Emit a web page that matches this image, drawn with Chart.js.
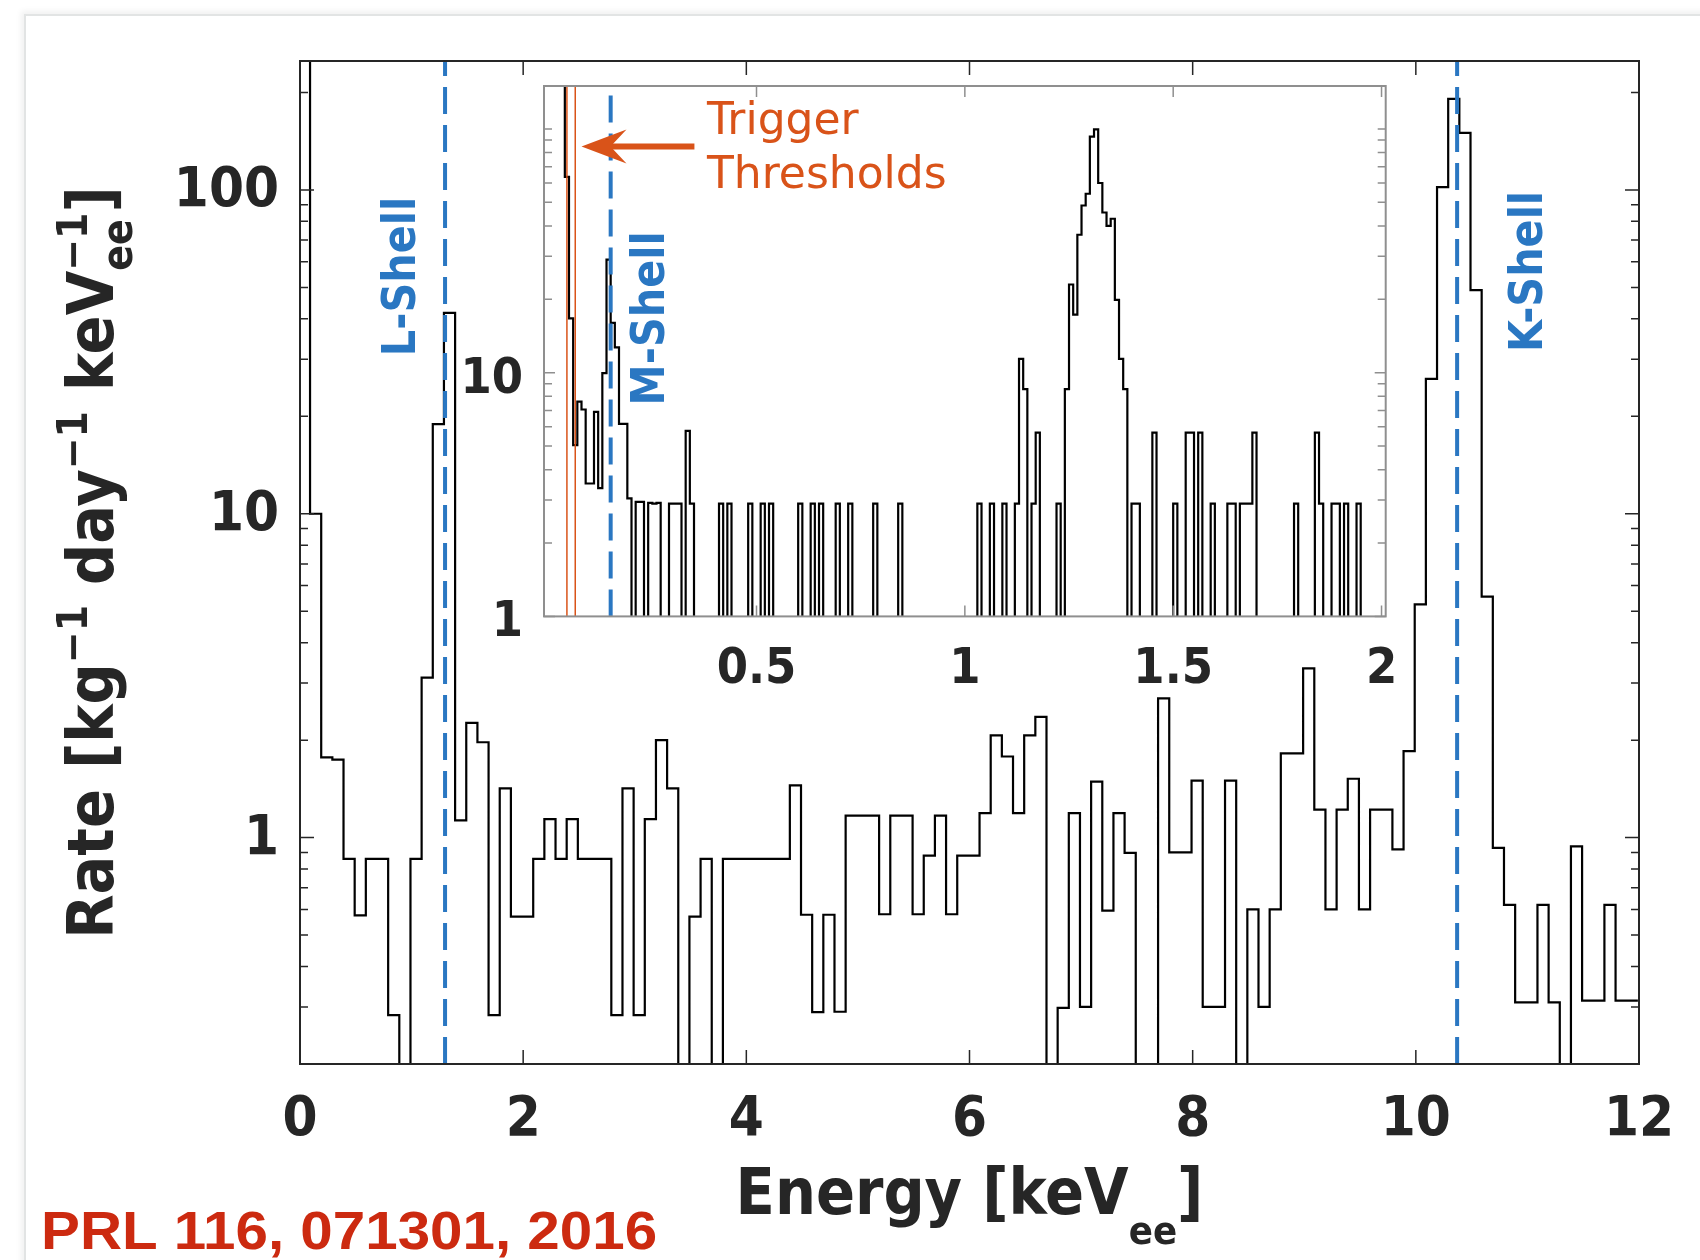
<!DOCTYPE html>
<html>
<head>
<meta charset="utf-8">
<title>CDMSlite energy spectrum</title>
<script src="https://cdn.jsdelivr.net/npm/chart.js@4/dist/chart.umd.min.js"></script>
<style>
  html, body { margin: 0; padding: 0; background: #fff; }
  #page { position: relative; width: 1700px; height: 1260px; overflow: hidden; background: #fff; }
  #frame { position: absolute; left: 24px; top: 14px; width: 1720px; height: 1290px; background: #fff;
           border-left: 2px solid #e2e4e4; border-top: 2px solid #e2e4e4;
           box-shadow: -3px -3px 6px rgba(0,0,0,0.06); }
  canvas { position: absolute; }
  #main { left: 0; top: 0; }
  #inset { left: 400px; top: 40px; }
</style>
</head>
<body>
<div id="page">
  <div id="frame"></div>
  <canvas id="main" width="1700" height="1260"></canvas>
  <canvas id="inset" width="1000" height="650"></canvas>
</div>
<script>
// ---- main spectrum: 0.1 keV bins, bin k runs from 0.1k-0.01 to 0.1k+0.09 keV ----
const mainBinWidth = 0.1;
const mainFirstEdge = -0.01;
const mainRate = [
  300, 10, 1.77, 1.74, 0.86, 0.575, 0.86, 0.86, 0.283, 0,          // 0 keV
  0.86, 3.12, 18.9, 41.7, 1.13, 2.26, 1.97, 0.283, 1.42, 0.57,     // 1 keV
  0.57, 0.86, 1.14, 0.86, 1.14, 0.86, 0.86, 0.86, 0.283, 1.42,     // 2 keV
  0.283, 1.14, 2.0, 1.42, 0, 0.57, 0.86, 0, 0.86, 0.86,            // 3 keV
  0.86, 0.86, 0.86, 0.86, 1.45, 0.578, 0.289, 0.578, 0.29, 1.17,   // 4 keV
  1.17, 1.17, 0.58, 1.17, 1.17, 0.58, 0.88, 1.17, 0.58, 0.88,      // 5 keV
  0.88, 1.19, 2.07, 1.78, 1.19, 2.07, 2.36, 0, 0.298, 1.19,        // 6 keV
  0.3, 1.49, 0.595, 1.19, 0.897, 0, 0, 2.69, 0.9, 0.9,             // 7 keV
  1.5, 0.3, 0.3, 1.5, 0, 0.6, 0.3, 0.6, 1.82, 1.82,                // 8 keV
  3.33, 1.22, 0.6, 1.22, 1.52, 0.6, 1.22, 1.22, 0.92, 1.85,        // 9 keV
  5.25, 26.1, 102, 191, 150, 49, 5.55, 0.93, 0.62, 0.31,           // 10 keV
  0.31, 0.62, 0.31, 0, 0.94, 0.314, 0.314, 0.62, 0.314, 0.314      // 11 keV
];
const mainXTicks = [0, 2, 4, 6, 8, 10, 12];
const mainYTicks = [0.2, 0.3, 0.4, 0.5, 0.6, 0.7, 0.8, 0.9, 1, 2, 3, 4, 5, 6, 7, 8, 9,
                    10, 20, 30, 40, 50, 60, 70, 80, 90, 100, 200];
const mainYLabels = [1, 10, 100];
const mainYMin = 0.2, mainYMax = 250;

const shellName = ['L-Shell', 'K-Shell'];
const shellEnergy = [1.3, 10.37];

// ---- inset: 0.01 keV bins, only the filled bins are listed (start of bin, rate) ----
const insetBinLow = [
  -0.01, 0.00, 0.01, 0.02, 0.03,
  0.04, 0.05, 0.06, 0.07, 0.08, 0.09, 0.10, 0.11,
  0.12, 0.13, 0.14, 0.15, 0.16, 0.17, 0.18, 0.19,
  0.21, 0.22, 0.24, 0.25, 0.26, 0.29, 0.30, 0.31, 0.33, 0.34,
  0.41, 0.43, 0.48, 0.51, 0.53, 0.60, 0.63, 0.65, 0.69, 0.72, 0.78, 0.84,
  1.03, 1.06, 1.09, 1.12, 1.13, 1.14, 1.16, 1.17, 1.22,
  1.24, 1.25, 1.26, 1.27, 1.28, 1.29, 1.30, 1.31,
  1.32, 1.33, 1.34, 1.35, 1.36, 1.37, 1.38,
  1.40, 1.41, 1.45, 1.50, 1.53, 1.54, 1.56, 1.59,
  1.63, 1.64, 1.66, 1.67, 1.68, 1.69, 1.79, 1.84, 1.85, 1.88, 1.89, 1.91, 1.94
];
const insetRate = [
  400, 400, 400, 400, 400,
  63.6, 16.7, 5.04, 7.6, 7.06, 3.51, 3.51, 6.9,
  3.36, 9.95, 29.1, 16.0, 12.7, 6.17, 6.17, 3.05,
  2.95, 2.95, 2.92, 2.9, 2.92, 2.9, 2.9, 2.9, 5.77, 2.9,
  2.9, 2.9, 2.9, 2.9, 2.9, 2.9, 2.9, 2.9, 2.9, 2.9, 2.9, 2.9,
  2.9, 2.9, 2.9, 2.9, 11.4, 8.56, 2.9, 5.67, 2.9,
  8.56, 23.0, 17.3, 36.8, 48.5, 54.2, 93.0, 99.5,
  60.0, 45.4, 40.0, 42.8, 19.9, 11.4, 8.56,
  2.9, 2.9, 5.67, 2.9, 5.67, 5.67, 5.67, 2.9,
  2.9, 2.9, 2.9, 2.9, 2.9, 5.67, 2.9, 5.67, 2.9, 2.9, 2.9, 2.9, 2.9
];
const insetXTicks = [0.5, 1, 1.5, 2];
const insetYTicks = [1, 2, 3, 4, 5, 6, 7, 8, 9, 10, 20, 30, 40, 50, 60, 70, 80, 90, 100];
const insetYLabels = [1, 10];
const insetXMin = -0.01, insetXMax = 2.01, insetYMin = 1, insetYMax = 150;
const mShellEnergy = 0.15;
const triggerThreshold = [0.045, 0.065];

// ---- styling ----
const FAM = '"DejaVu Sans Condensed", "DejaVu Sans", sans-serif';
const INK = '#262626';
const BLUE = '#2a77c2';
const ORANGE = '#d95319';

// empty bins are sent below the axis and clipped away
const mainSteps = mainRate.map((v, i) => ({ x: +(mainFirstEdge + i * mainBinWidth).toFixed(3), y: v > 0 ? v : 0.01 }));
mainSteps.push({ x: +(mainFirstEdge + mainRate.length * mainBinWidth).toFixed(3), y: mainSteps[mainSteps.length - 1].y });

const insetLevel = new Map(insetBinLow.map((e, i) => [Math.round(e * 100), insetRate[i]]));
const insetSteps = [];
for (let k = Math.round(insetXMin * 100); k < Math.round(insetXMax * 100); k++) {
  insetSteps.push({ x: k / 100, y: insetLevel.get(k) || 0.1 });
}
insetSteps.push({ x: insetXMax, y: 0.1 });

function vline(x, y0, y1, color, width, dash) {
  return { data: [{ x: x, y: y0 }, { x: x, y: y1 }], borderColor: color, borderWidth: width,
           borderDash: dash, borderCapStyle: 'butt', pointRadius: 0, fill: false, order: 0 };
}

function boxAndTicks(chart, color, majorLen, minorLen, majorY) {
  const { ctx, chartArea: a, scales: { x, y } } = chart;
  ctx.save();
  ctx.strokeStyle = color;
  ctx.lineWidth = 1.5;
  ctx.beginPath();
  x.ticks.forEach(t => {
    const px = x.getPixelForValue(t.value);
    ctx.moveTo(px, a.bottom); ctx.lineTo(px, a.bottom - majorLen);
    ctx.moveTo(px, a.top); ctx.lineTo(px, a.top + majorLen);
  });
  y.ticks.forEach(t => {
    const py = y.getPixelForValue(t.value);
    const len = majorY.includes(t.value) ? majorLen : minorLen;
    ctx.moveTo(a.left, py); ctx.lineTo(a.left + len, py);
    ctx.moveTo(a.right, py); ctx.lineTo(a.right - len, py);
  });
  ctx.stroke();
  ctx.lineWidth = 2;
  ctx.strokeRect(a.left, a.top, a.right - a.left, a.bottom - a.top);
  ctx.restore();
}

// text with super/subscripts; each part is a list of runs sharing the same x
function richWidth(ctx, parts, F) {
  let w = 0;
  parts.forEach(p => {
    let adv = 0;
    p.forEach(r => { ctx.font = `bold ${F * r.k}px ${FAM}`; adv = Math.max(adv, ctx.measureText(r.t).width); });
    w += adv;
  });
  return w;
}
function drawRich(ctx, parts, F, x0, y0) {
  let x = x0;
  parts.forEach(p => {
    let adv = 0;
    p.forEach(r => {
      ctx.font = `bold ${F * r.k}px ${FAM}`;
      ctx.fillText(r.t, x, y0 + r.dy * F);
      adv = Math.max(adv, ctx.measureText(r.t).width);
    });
    x += adv;
  });
}
function rotatedLabel(ctx, text, x, y, font, color) {
  ctx.save();
  ctx.translate(x, y);
  ctx.rotate(-Math.PI / 2);
  ctx.font = font;
  ctx.fillStyle = color;
  ctx.textAlign = 'center';
  ctx.textBaseline = 'middle';
  ctx.fillText(text, 0, 0);
  ctx.restore();
}

const yTitle = [
  [{ t: 'Rate [kg', k: 1, dy: 0 }],
  [{ t: '\u22121', k: 0.66, dy: -0.4 }],
  [{ t: ' day', k: 1, dy: 0 }],
  [{ t: '\u22121', k: 0.66, dy: -0.4 }],
  [{ t: ' keV', k: 1, dy: 0 }],
  [{ t: '\u22121', k: 0.66, dy: -0.4 }, { t: 'ee', k: 0.66, dy: 0.3 }],
  [{ t: ']', k: 1, dy: 0 }]
];
const xTitle = [
  [{ t: 'Energy [keV', k: 1, dy: 0 }],
  [{ t: 'ee', k: 0.62, dy: 0.47 }],
  [{ t: ']', k: 1, dy: 0 }]
];

const mainDecor = {
  id: 'mainDecor',
  afterDraw(chart) {
    const { ctx, chartArea: a, scales: { x, y } } = chart;
    boxAndTicks(chart, INK, 14, 8, mainYLabels);

    const shellFont = `bold 46px ${FAM}`;
    rotatedLabel(ctx, shellName[0], x.getPixelForValue(0.92), y.getPixelForValue(54), shellFont, BLUE);
    rotatedLabel(ctx, shellName[1], x.getPixelForValue(11.02), y.getPixelForValue(56), shellFont, BLUE);

    const F = 64;
    ctx.save();
    ctx.fillStyle = INK;
    ctx.textBaseline = 'alphabetic';
    const wy = richWidth(ctx, yTitle, F);
    ctx.translate(a.left - 187, (a.top + a.bottom) / 2);
    ctx.rotate(-Math.PI / 2);
    drawRich(ctx, yTitle, F, -wy / 2, 0);
    ctx.restore();

    ctx.save();
    ctx.fillStyle = INK;
    const wx = richWidth(ctx, xTitle, F);
    drawRich(ctx, xTitle, F, (a.left + a.right) / 2 - wx / 2, a.bottom + 150);
    ctx.restore();

    ctx.save();
    ctx.fillStyle = '#cc2a10';
    ctx.font = 'bold 54px "Liberation Sans", Arial, sans-serif';
    ctx.translate(41, 1249);
    ctx.scale(1.08, 1);
    ctx.fillText('PRL 116, 071301, 2016', 0, 0);
    ctx.restore();
  }
};

new Chart(document.getElementById('main'), {
  type: 'line',
  data: {
    datasets: [
      vline(shellEnergy[0], mainYMin, mainYMax, BLUE, 4, [27, 11]),
      vline(shellEnergy[1], mainYMin, mainYMax, BLUE, 4, [27, 11]),
      { data: mainSteps, stepped: true, borderColor: '#000', borderWidth: 2.2,
        pointRadius: 0, fill: false, order: 1 }
    ]
  },
  options: {
    responsive: false, animation: false, devicePixelRatio: 1, events: [],
    layout: { padding: { left: 0, top: 61, right: 61, bottom: 0 } },
    plugins: { legend: { display: false }, tooltip: { enabled: false } },
    scales: {
      x: {
        type: 'linear', min: 0, max: 12,
        grid: { display: false, drawTicks: false }, border: { display: false },
        afterBuildTicks: s => { s.ticks = mainXTicks.map(v => ({ value: v })); },
        afterFit: s => { s.height = 196; s.paddingLeft = 0; s.paddingRight = 0; },
        ticks: { padding: 23, maxRotation: 0, autoSkip: false, color: INK,
                 font: { family: FAM, size: 56, weight: 'bold' }, callback: v => String(v) }
      },
      y: {
        type: 'logarithmic', min: mainYMin, max: mainYMax,
        grid: { display: false, drawTicks: false }, border: { display: false },
        afterBuildTicks: s => { s.ticks = mainYTicks.map(v => ({ value: v })); },
        afterFit: s => { s.width = 300; s.paddingTop = 0; s.paddingBottom = 0; },
        ticks: { padding: 21, autoSkip: false, color: INK, labelOffset: 2,
                 font: { family: FAM, size: 56, weight: 'bold' },
                 callback: v => mainYLabels.includes(v) ? String(v) : '' }
      }
    }
  },
  plugins: [mainDecor]
});

const insetDecor = {
  id: 'insetDecor',
  beforeDraw(chart) {
    const { ctx, chartArea: a } = chart;
    ctx.save();
    ctx.fillStyle = '#fff';
    ctx.fillRect(a.left, a.top, a.right - a.left, a.bottom - a.top);
    ctx.restore();
  },
  afterDraw(chart) {
    const { ctx, scales: { x, y } } = chart;
    boxAndTicks(chart, '#8f8f8f', 11, 8, insetYLabels);

    rotatedLabel(ctx, 'M-Shell', x.getPixelForValue(0.249), y.getPixelForValue(16.7), `bold 46px ${FAM}`, BLUE);

    ctx.save();
    ctx.fillStyle = ORANGE;
    ctx.font = '44px "DejaVu Sans", sans-serif';
    ctx.textBaseline = 'alphabetic';
    const tx = x.getPixelForValue(0.381);
    ctx.fillText('Trigger', tx, y.getPixelForValue(95));
    ctx.fillText('Thresholds', tx, y.getPixelForValue(57));

    // arrow pointing at the thresholds
    const ay = y.getPixelForValue(84.7);
    const tip = x.getPixelForValue(0.08);
    const tail = x.getPixelForValue(0.351);
    ctx.fillRect(tip + 26, ay - 3, tail - tip - 26, 6);
    ctx.beginPath();
    ctx.moveTo(tip, ay);
    ctx.lineTo(tip + 45, ay - 17);
    ctx.lineTo(tip + 29, ay);
    ctx.lineTo(tip + 45, ay + 17);
    ctx.closePath();
    ctx.fill();
    ctx.restore();
  }
};

new Chart(document.getElementById('inset'), {
  type: 'line',
  data: {
    datasets: [
      vline(mShellEnergy, insetYMin, insetYMax, BLUE, 4, [27, 11]),
      vline(triggerThreshold[0], insetYMin, insetYMax, ORANGE, 1.5, []),
      vline(triggerThreshold[1], insetYMin, insetYMax, ORANGE, 1.5, []),
      { data: insetSteps, stepped: true, borderColor: '#000', borderWidth: 2.2,
        pointRadius: 0, fill: false, order: 1 }
    ]
  },
  options: {
    responsive: false, animation: false, devicePixelRatio: 1, events: [],
    layout: { padding: { left: 0, top: 46, right: 14.3, bottom: 0 } },
    plugins: { legend: { display: false }, tooltip: { enabled: false } },
    scales: {
      x: {
        type: 'linear', min: insetXMin, max: insetXMax,
        grid: { display: false, drawTicks: false }, border: { display: false },
        afterBuildTicks: s => { s.ticks = insetXTicks.map(v => ({ value: v })); },
        afterFit: s => { s.height = 73.6; s.paddingLeft = 0; s.paddingRight = 0; },
        ticks: { padding: 24, maxRotation: 0, autoSkip: false, color: INK,
                 font: { family: FAM, size: 50, weight: 'bold' }, callback: v => String(v) }
      },
      y: {
        type: 'logarithmic', min: insetYMin, max: insetYMax,
        grid: { display: false, drawTicks: false }, border: { display: false },
        afterBuildTicks: s => { s.ticks = insetYTicks.map(v => ({ value: v })); },
        afterFit: s => { s.width = 144; s.paddingTop = 0; s.paddingBottom = 0; },
        ticks: { padding: 21, autoSkip: false, color: INK, labelOffset: 7,
                 font: { family: FAM, size: 50, weight: 'bold' },
                 callback: v => insetYLabels.includes(v) ? String(v) : '' }
      }
    }
  },
  plugins: [insetDecor]
});
</script>
</body>
</html>
